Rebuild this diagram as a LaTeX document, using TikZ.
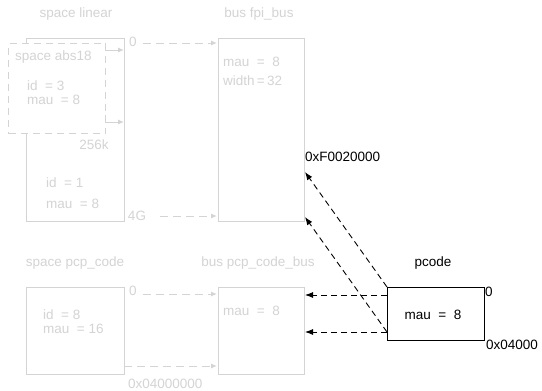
\documentclass[tikz,border=0pt]{standalone}
\usepackage{fontspec}
\setmainfont{Liberation Sans}
\usetikzlibrary{arrows.meta}
\definecolor{ghost}{RGB}{212,212,212}
\tikzset{
  gbox/.style={draw=ghost, line width=1pt, anchor=north west, inner sep=0pt},
  bbox/.style={draw=black, line width=1pt, anchor=north west, inner sep=0pt},
  gtxt/.style={text=ghost, inner sep=0pt, font=\fontsize{13.5}{15}\selectfont},
  btxt/.style={text=black, inner sep=0pt, font=\fontsize{13.5}{15}\selectfont},
  garrow/.style={draw=ghost, line width=1pt, dash pattern=on 8pt off 5pt, -{Latex[length=6pt,width=5pt]}},
  gelbow/.style={draw=ghost, line width=1pt, -{Latex[length=6pt,width=5pt]}},
  barrow/.style={draw=black, line width=0.9pt, dash pattern=on 6pt off 4pt, -{Latex[length=8pt,width=6pt]}}
}
\begin{document}
\begin{tikzpicture}[x=1pt,y=-1pt]
\useasboundingbox[fill=white] (0,0) rectangle (542,391);
% ---- space linear ----
\node[gtxt] (tlinear) at (76,14) {space linear};
\node[gbox, minimum width=98pt, minimum height=183pt] (linear) at (26,38) {};
\node[gbox, dashed, dash pattern=on 7pt off 5pt, fill=white, minimum width=97pt, minimum height=90pt] (abs) at (8,43) {};
\node[gtxt, anchor=west] (tabs) at (15,57) {space abs18};
\node[gtxt, anchor=west] (absid) at (27,86) {id\ \ =\ 3};
\node[gtxt, anchor=west] (absmau) at (27,100) {mau\ \ =\ 8};
\coordinate (ae1) at (105,43);
\coordinate (ae1t) at (124,50);
\coordinate (ae2) at (105,115);
\coordinate (ae2t) at (124,122);
\draw[gelbow] (ae1) |- (ae1t);
\draw[gelbow] (ae2) |- (ae2t);
\node[gtxt] (t256) at (94,145) {256k};
\node[gtxt, anchor=west] (linid) at (46,183) {id\ \ =\ 1};
\node[gtxt, anchor=west] (linmau) at (46,204) {mau\ \ =\ 8};
\node[gtxt, anchor=west] (l0) at (129,42) {0};
\node[gtxt] (l4g) at (137,216) {4G};
% ---- bus fpi_bus ----
\node[gtxt] (tfpi) at (259,14) {bus fpi\_bus};
\node[gbox, minimum width=86pt, minimum height=183pt] (fpi) at (218,38) {};
\node[gtxt, anchor=west] (fpimau) at (223,62) {mau\ \ =\ \ 8};
\node[gtxt, anchor=west] (fpiw) at (223,81) {width\,=\,32};
\coordinate (la) at (143,43);
\coordinate (fa) at (217,43);
\coordinate (lb) at (160,216);
\coordinate (fb) at (217,216);
\draw[garrow] (la) -- (fa);
\draw[garrow] (lb) -- (fb);
% ---- space pcp_code ----
\node[gtxt] (tpcp) at (75,263) {space pcp\_code};
\node[gbox, minimum width=98pt, minimum height=87pt] (pcp) at (26,287) {};
\node[gtxt, anchor=west] (pcp0) at (129,291) {0};
\node[gtxt, anchor=west] (pcpid) at (43,315) {id\ \ =\ 8};
\node[gtxt, anchor=west] (pcpmau) at (43,329) {mau\ \ =\ 16};
\node[gtxt, anchor=west] (pcpend) at (128,384) {0x04000000};
% ---- bus pcp_code_bus ----
\node[gtxt] (tpcb) at (258,263) {bus pcp\_code\_bus};
\node[gbox, minimum width=86pt, minimum height=87pt] (pcb) at (218,287) {};
\node[gtxt, anchor=west] (pcbmau) at (223,311) {mau\ \ =\ \ 8};
\coordinate (pa) at (143,294);
\coordinate (qa) at (217,294);
\coordinate (pb) at (124,366);
\coordinate (qb) at (217,366);
\draw[garrow] (pa) -- (qa);
\draw[garrow] (pb) -- (qb);
% ---- pcode ----
\node[btxt, anchor=west] (f002) at (305,157) {0xF0020000};
\node[btxt] (tpcode) at (433,263) {pcode};
\node[bbox, minimum width=97pt, minimum height=53pt] (pcode) at (387,287) {};
\node[btxt] (pcmau) at (433,315) {mau\ \ =\ \ 8};
\node[btxt, anchor=west] (pc0) at (485,292) {0};
\node[btxt, anchor=west] (pcend) at (486,345) {0x04000};
\coordinate (c1) at (387,287);
\coordinate (c2) at (387,332);
\coordinate (c3) at (387,295);
\coordinate (d1) at (305,172);
\coordinate (d2) at (305,217);
\coordinate (d3) at (305,295);
\coordinate (d4) at (305,332);
\draw[barrow] (c1) -- (d1);
\draw[barrow] (c2) -- (d2);
\draw[barrow] (c3) -- (d3);
\draw[barrow] (c2) -- (d4);
\end{tikzpicture}
\end{document}
